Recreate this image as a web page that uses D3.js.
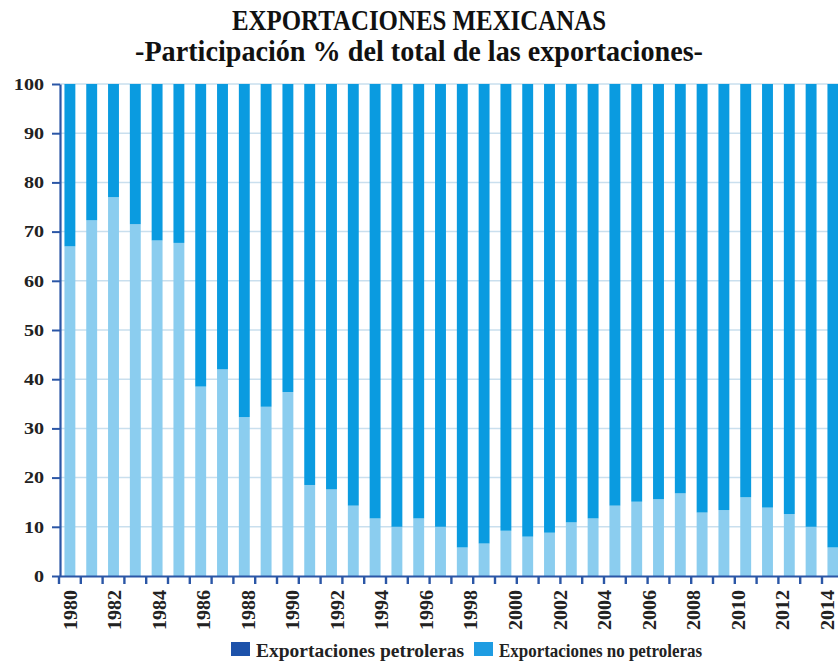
<!DOCTYPE html>
<html>
<head>
<meta charset="utf-8">
<script src="https://cdn.jsdelivr.net/npm/d3@7"></script>
<style>
  html, body { margin: 0; padding: 0; background: #ffffff; }
  svg { display: block; }
</style>
</head>
<body>
<svg id="chart" width="838" height="672"></svg>
<script>
// Years shown as bars
const years = [
  "1980","1981","1982","1983","1984","1985","1986","1987","1988","1989",
  "1990","1991","1992","1993","1994","1995","1996","1997","1998","1999",
  "2000","2001","2002","2003","2004","2005","2006","2007","2008","2009",
  "2010","2011","2012","2013","2014","2015"
];

// Share of total exports (%), lower segment
const petroleras = [
  67.0, 72.3, 77.0, 71.5, 68.2, 67.7, 38.5, 42.0, 32.3, 34.4,
  37.4, 18.5, 17.6, 14.3, 11.7, 10.0, 11.7, 10.0, 5.8, 6.6,
  9.2, 8.0, 8.8, 10.9, 11.7, 14.3, 15.1, 15.6, 16.8, 12.9,
  13.4, 16.0, 13.9, 12.6, 10.0, 5.8
];

// Share of total exports (%), upper segment
const noPetroleras = [
  33.0, 27.7, 23.0, 28.5, 31.8, 32.3, 61.5, 58.0, 67.7, 65.6,
  62.6, 81.5, 82.4, 85.7, 88.3, 90.0, 88.3, 90.0, 94.2, 93.4,
  90.8, 92.0, 91.2, 89.1, 88.3, 85.7, 84.9, 84.4, 83.2, 87.1,
  86.6, 84.0, 86.1, 87.4, 90.0, 94.2
];

// Axis labels
const xTickLabels = [
  "1980","1982","1984","1986","1988","1990","1992","1994","1996",
  "1998","2000","2002","2004","2006","2008","2010","2012","2014"
];
const yTicks = [0, 10, 20, 30, 40, 50, 60, 70, 80, 90, 100];

const seriesKeys = ["petroleras", "noPetroleras"];
const rows = years.map((y, i) => ({ year: y, petroleras: petroleras[i], noPetroleras: noPetroleras[i] }));

const svg = d3.select("#chart");
const W = 838, H = 672;
const plot = { left: 60, right: 838, top: 84, bottom: 576 };

const serif = "'Liberation Serif', 'Times New Roman', Times, serif";
const axisBlue = "#2b56a6";
const barColors = { petroleras: "#8bcdef", noPetroleras: "#0a9be0" };

svg.append("rect").attr("width", W).attr("height", H).attr("fill", "#ffffff");

// Scales
const x = d3.scaleBand()
  .domain(years)
  .range([59, 59 + 36 * 21.8])
  .paddingInner(0.5)
  .paddingOuter(0.25);

const y = d3.scaleLinear().domain([0, 100]).range([plot.bottom, plot.top]);

// Titles
svg.append("text")
  .attr("x", W / 2).attr("y", 30)
  .attr("text-anchor", "middle")
  .attr("font-family", serif).attr("font-weight", "bold")
  .attr("font-size", 30)
  .attr("textLength", 374).attr("lengthAdjust", "spacingAndGlyphs")
  .attr("fill", "#111")
  .text("EXPORTACIONES MEXICANAS");

svg.append("text")
  .attr("x", W / 2).attr("y", 61)
  .attr("text-anchor", "middle")
  .attr("font-family", serif).attr("font-weight", "bold")
  .attr("font-size", 30)
  .attr("textLength", 568).attr("lengthAdjust", "spacingAndGlyphs")
  .attr("fill", "#111")
  .text("-Participación % del total de las exportaciones-");

// Horizontal gridlines
svg.append("g")
  .selectAll("line")
  .data(yTicks.filter(d => d > 0))
  .join("line")
  .attr("x1", plot.left).attr("x2", plot.right)
  .attr("y1", d => y(d)).attr("y2", d => y(d))
  .attr("stroke", "#c9dfee").attr("stroke-width", 1.5);

// Stacked bars
const stacked = d3.stack().keys(seriesKeys)(rows);
svg.append("g")
  .selectAll("g")
  .data(stacked)
  .join("g")
  .attr("fill", d => barColors[d.key])
  .selectAll("rect")
  .data(d => d)
  .join("rect")
  .attr("x", d => x(d.data.year))
  .attr("width", x.bandwidth())
  .attr("y", d => y(d[1]))
  .attr("height", d => y(d[0]) - y(d[1]));

// Y axis
const yAxis = svg.append("g")
  .attr("transform", `translate(${plot.left},0)`)
  .call(d3.axisLeft(y).tickValues(yTicks).tickSize(8).tickPadding(0).tickSizeOuter(0));
yAxis.select(".domain").attr("stroke", axisBlue).attr("stroke-width", 2.2);
yAxis.selectAll(".tick line").attr("stroke", axisBlue).attr("stroke-width", 2);
yAxis.selectAll(".tick text")
  .attr("font-family", serif).attr("font-weight", "bold")
  .attr("font-size", 16.5).attr("fill", "#222")
  .attr("x", -16 / 1.22)
  .attr("transform", "scale(1.22,1)");

// X axis: ticks between bars
const xAxis = svg.append("g")
  .attr("transform", `translate(0,${plot.bottom})`)
  .call(d3.axisBottom(x).tickSize(8).tickSizeOuter(0).tickFormat(""));
xAxis.select(".domain").attr("stroke", axisBlue).attr("stroke-width", 2.2);
xAxis.selectAll(".tick")
  .attr("transform", d => `translate(${x(d) - x.step() * x.paddingInner() / 2},0)`);
xAxis.selectAll(".tick line").attr("stroke", axisBlue).attr("stroke-width", 2.4);

// X axis labels spread across the bar range
const xLab = d3.scalePoint()
  .domain(xTickLabels)
  .range([x(years[0]) + x.bandwidth() / 2, x(years[years.length - 1]) + x.bandwidth() / 2 - 6]);
const xLabAxis = svg.append("g")
  .attr("transform", `translate(0,${plot.bottom})`)
  .call(d3.axisBottom(xLab).tickSize(0).tickSizeOuter(0));
xLabAxis.select(".domain").remove();
xLabAxis.selectAll(".tick text")
  .attr("font-family", serif).attr("font-weight", "bold")
  .attr("font-size", 18).attr("fill", "#222")
  .attr("text-anchor", "end")
  .attr("textLength", 40).attr("lengthAdjust", "spacingAndGlyphs")
  .attr("transform", "rotate(-90)")
  .attr("x", -14).attr("y", 0).attr("dy", "0.35em");

// Legend
const legendItems = [
  { label: "Exportaciones petroleras", color: "#1d52aa", x: 231, len: 208 },
  { label: "Exportaciones no petroleras", color: "#1e9ce2", x: 474, len: 203 }
];
const legend = svg.append("g");
legendItems.forEach(it => {
  legend.append("rect")
    .attr("x", it.x).attr("y", 642)
    .attr("width", 19).attr("height", 14)
    .attr("fill", it.color);
  legend.append("text")
    .attr("x", it.x + 25).attr("y", 657)
    .attr("font-family", serif).attr("font-weight", "bold")
    .attr("font-size", 18.5).attr("fill", "#222")
    .attr("textLength", it.len).attr("lengthAdjust", "spacingAndGlyphs")
    .text(it.label);
});
</script>
</body>
</html>
